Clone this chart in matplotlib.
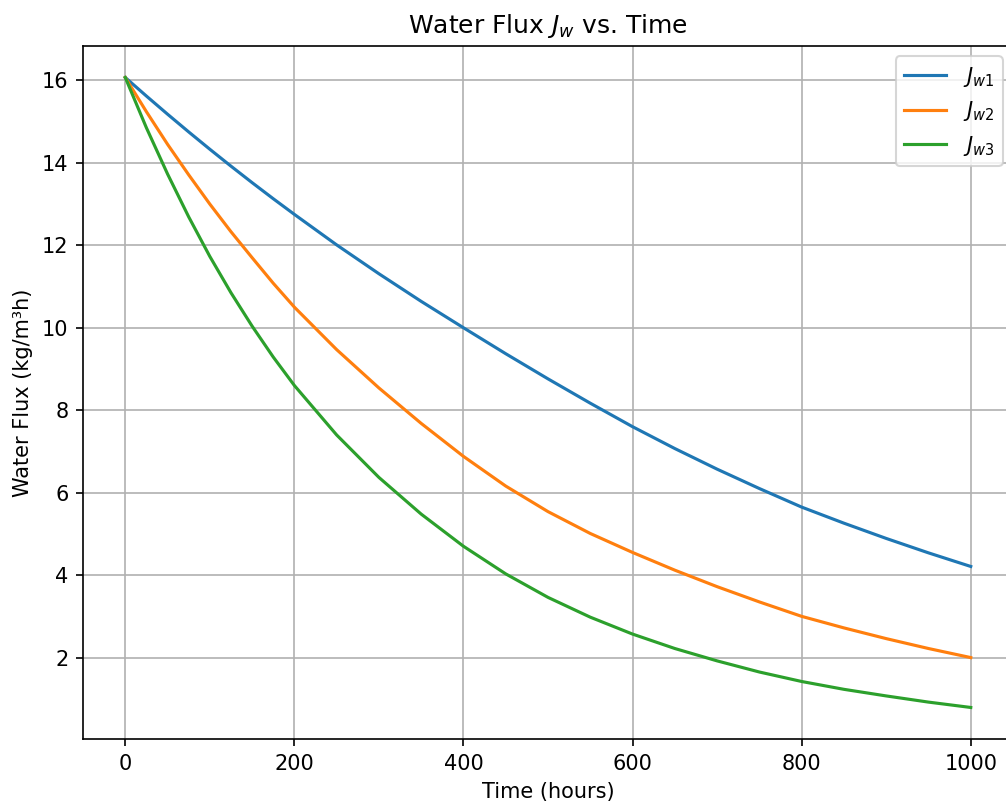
import matplotlib
matplotlib.use("Agg")
import matplotlib.pyplot as plt

# values
time_h = [0, 25, 50, 75, 100, 125, 150, 175, 200, 250, 300, 350, 400, 450, 500,
          550, 600, 650, 700, 750, 800, 850, 900, 950, 1000]
jw1 = [16.07, 15.62, 15.18, 14.75, 14.33, 13.92, 13.52, 13.13, 12.75, 12.01, 11.31, 10.64, 10.0,
       9.37, 8.76, 8.17, 7.6, 7.07, 6.57, 6.1, 5.65, 5.26, 4.89, 4.54, 4.21]
jw2 = [16.07, 15.24, 14.45, 13.71, 13.0, 12.33, 11.7, 11.08, 10.5, 9.47, 8.54, 7.68, 6.88,
       6.16, 5.54, 5.01, 4.55, 4.12, 3.72, 3.35, 3.0, 2.72, 2.46, 2.22, 2.0]
jw3 = [16.07, 14.85, 13.73, 12.69, 11.73, 10.85, 10.04, 9.29, 8.6, 7.4, 6.37, 5.48, 4.7,
       4.03, 3.46, 2.98, 2.57, 2.22, 1.92, 1.65, 1.42, 1.23, 1.07, 0.92, 0.79]

fig = plt.figure(figsize=(1006 / 150, 807 / 150), dpi=150)
ax = fig.add_axes([0.0825, 0.0843, 0.9245, 0.8587])

ax.plot(time_h, jw1, label=r'$J_{w1}$')
ax.plot(time_h, jw2, label=r'$J_{w2}$')
ax.plot(time_h, jw3, label=r'$J_{w3}$')

ax.set_title(r'Water Flux $J_w$ vs. Time')
ax.set_xlabel('Time (hours)')
ax.set_ylabel('Water Flux (kg/m³h)')
ax.grid(True)
ax.legend(loc='upper right')

plt.savefig('out.png', dpi=150)
plt.close()
